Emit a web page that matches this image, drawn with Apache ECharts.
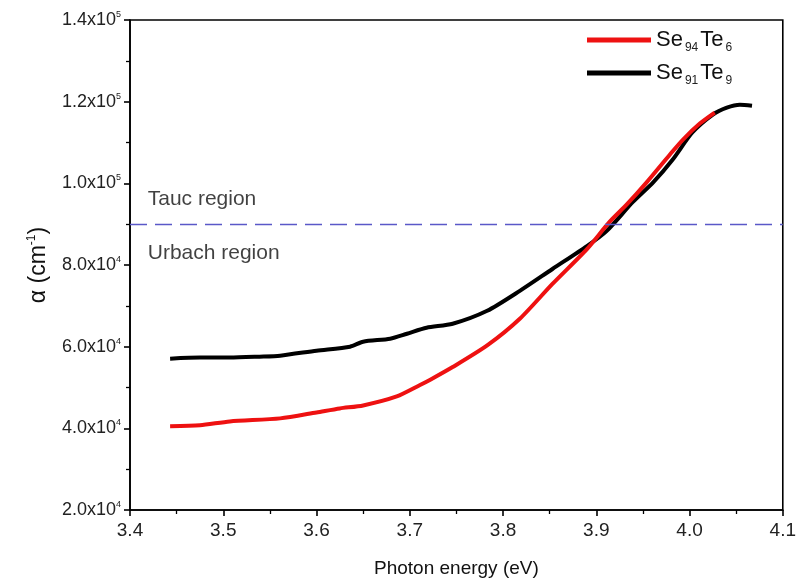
<!DOCTYPE html>
<html>
<head>
<meta charset="utf-8">
<script src="https://cdn.jsdelivr.net/npm/echarts@6/dist/echarts.min.js"></script>
<style>
html,body{margin:0;padding:0;background:#fff;}
#chart{width:799px;height:583px;}
</style>
</head>
<body>
<div id="chart"></div>
<script>
// Se94Te6 (red)
const se94te6 = [
  [3.443,40490],[3.475,40730],[3.507,41700],[3.561,42440],[3.600,43900],[3.625,44880],
  [3.650,45610],[3.686,47800],[3.711,50600],[3.722,51900],[3.746,55000],[3.783,60300],
  [3.818,66830],[3.853,75370],[3.890,83900],[3.914,90490],[3.933,94880],[3.954,100240],
  [3.979,107070],[3.993,110730],[4.011,114630],[4.027,117320]
];
// Se91Te9 (black)
const se91te9 = [
  [3.443,57070],[3.475,57320],[3.507,57320],[3.539,57560],[3.561,57800],[3.600,59020],
  [3.636,60000],[3.650,61220],[3.679,61950],[3.697,63170],[3.718,64630],[3.746,65610],
  [3.783,68780],[3.818,73660],[3.853,79020],[3.890,84630],[3.911,88290],[3.939,95370],
  [3.961,100240],[3.982,105850],[4.003,112440],[4.025,116830],[4.040,118540],[4.054,119270],
  [4.067,119020]
];
const boundary = 90000;
const regionLabels = [[3.419, 96100, 'Tauc region'], [3.419, 82900, 'Urbach region']];
const xTicks = {min: 3.4, max: 4.1, interval: 0.1};
const yTicks = {min: 20000, max: 140000, interval: 20000};

const chart = echarts.init(document.getElementById('chart'));
const FONT = 'Liberation Sans, Arial, sans-serif';
function sci(v){
  const e = Math.floor(Math.log10(v) + 1e-9);
  const m = (v / Math.pow(10, e)).toFixed(1);
  return m + 'x10{sup|' + e + '}';
}
chart.setOption({
  animation: false,
  backgroundColor: '#fff',
  grid: {left: 130, right: 16, top: 20, bottom: 71, show: true, borderColor: '#000', borderWidth: 1.6},
  legend: {
    data: ['Se94Te6', 'Se91Te9'],
    orient: 'vertical', left: 582, top: 24, itemGap: 8,
    itemWidth: 64, itemHeight: 5, icon: 'rect',
    formatter: function(n){ return n === 'Se94Te6' ? 'Se{sub|94}Te{sub|6}' : 'Se{sub|91}Te{sub|9}'; },
    textStyle: {fontFamily: FONT, fontSize: 22, color: '#111',
      rich: {sub: {fontSize: 12, fontFamily: FONT, color: '#222', padding: [16, 2, 0, 2]}}}
  },
  xAxis: {
    type: 'value', min: xTicks.min, max: xTicks.max, interval: xTicks.interval,
    name: 'Photon energy (eV)', nameLocation: 'middle', nameGap: 49,
    nameTextStyle: {fontFamily: FONT, fontSize: 19, color: '#111'},
    axisLine: {onZero: false, lineStyle: {color: '#000', width: 1.6}},
    axisTick: {inside: false, length: 6, lineStyle: {color: '#000', width: 1.6}},
    minorTick: {show: true, splitNumber: 2, length: 4, lineStyle: {color: '#000', width: 1.3}},
    axisLabel: {fontFamily: FONT, fontSize: 19, color: '#222', margin: 11,
      formatter: v => v.toFixed(1)},
    splitLine: {show: false}
  },
  yAxis: {
    type: 'value', min: yTicks.min, max: yTicks.max, interval: yTicks.interval,
    name: 'α (cm{sup|-1})', nameLocation: 'middle', nameGap: 78, nameRotate: 90,
    nameTextStyle: {fontFamily: FONT, fontSize: 23, color: '#111',
      rich: {sup: {fontSize: 12, fontFamily: FONT, color: '#111', padding: [0, 0, 14, 0]}}},
    axisLine: {onZero: false, lineStyle: {color: '#000', width: 1.6}},
    axisTick: {inside: false, length: 6, lineStyle: {color: '#000', width: 1.6}},
    minorTick: {show: true, splitNumber: 2, length: 4, lineStyle: {color: '#000', width: 1.3}},
    axisLabel: {fontFamily: FONT, fontSize: 18, color: '#222', margin: 9,
      formatter: sci,
      rich: {sup: {fontSize: 9, fontFamily: FONT, color: '#222', padding: [0, 0, 11, 0]}}},
    splitLine: {show: false}
  },
  series: [
    {
      name: 'Se94Te6', type: 'line', data: se94te6, showSymbol: false, smooth: 0.25,
      lineStyle: {color: '#ee1111', width: 4}, itemStyle: {color: '#ee1111'}, z: 3
    },
    {
      name: 'Se91Te9', type: 'line', data: se91te9, showSymbol: false, smooth: 0.25,
      lineStyle: {color: '#000', width: 4}, itemStyle: {color: '#000'}, z: 2,
      markLine: {
        silent: true, symbol: 'none',
        lineStyle: {color: '#5a58c8', type: [17, 8], width: 1.3},
        label: {show: false},
        data: [{yAxis: boundary}]
      }
    },
    {
      name: 'regions', type: 'scatter', data: regionLabels, symbolSize: 0,
      label: {show: true, position: 'right', distance: 0, formatter: p => p.data[2],
        fontFamily: FONT, fontSize: 21, color: '#111'}
    }
  ]
});
</script>
</body>
</html>
